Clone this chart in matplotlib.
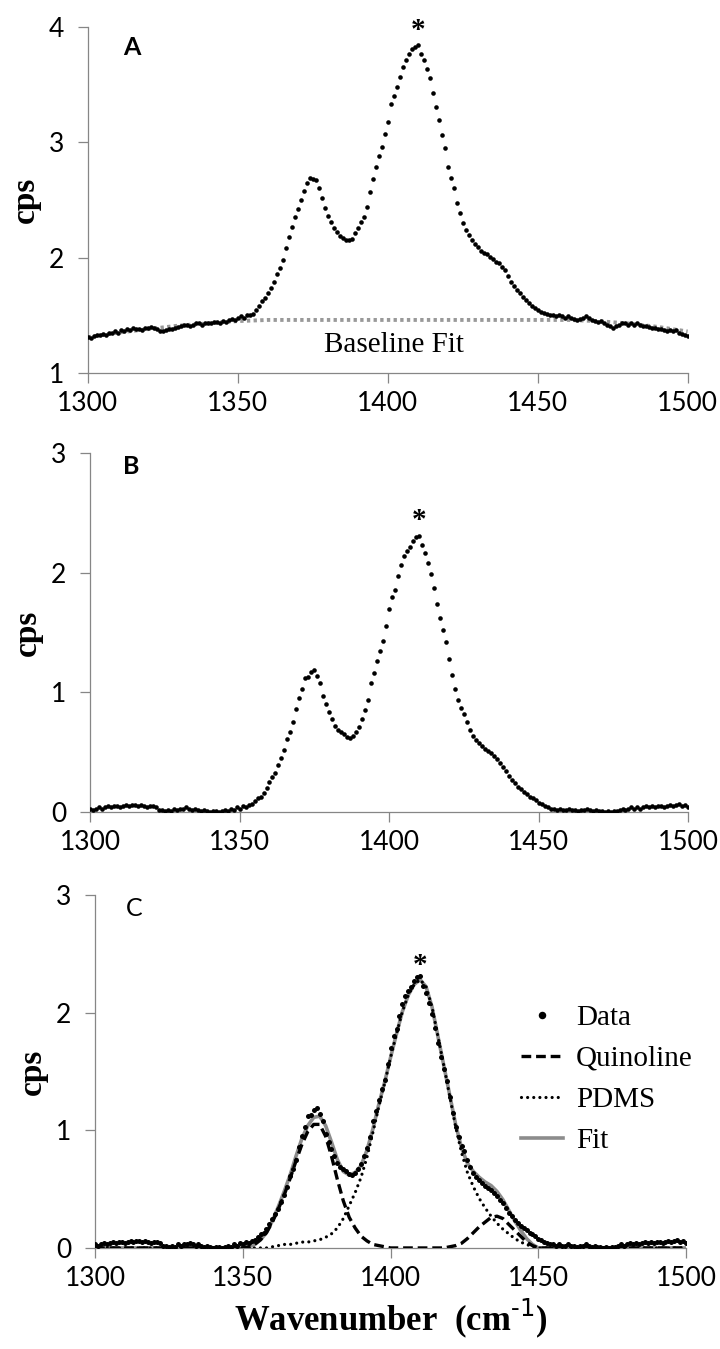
import matplotlib
matplotlib.use("Agg")
import matplotlib.pyplot as plt
import numpy as np

plt.rcParams['font.family'] = ['Lato', 'DejaVu Sans']
plt.rcParams['lines.scale_dashes'] = False

# x grids (cm-1)
wavenumber = np.arange(1300, 1501)          # measured points, 1 cm-1 apart
curve_wn = np.arange(1300, 1501, 2)         # fitted curves
baseline_wn = np.arange(1300, 1501, 10)     # baseline fit

# Panel A: raw spectrum
raw_cps = [
    1.31, 1.30, 1.32, 1.33, 1.33, 1.34, 1.33, 1.35, 1.35, 1.36,
    1.35, 1.37, 1.36, 1.38, 1.37, 1.39, 1.38, 1.38, 1.37, 1.39,
    1.39, 1.40, 1.39, 1.38, 1.36, 1.36, 1.37, 1.38, 1.38, 1.39,
    1.40, 1.41, 1.42, 1.42, 1.41, 1.42, 1.43, 1.43, 1.42, 1.43,
    1.43, 1.43, 1.44, 1.44, 1.43, 1.45, 1.44, 1.46, 1.47, 1.46,
    1.48, 1.49, 1.48, 1.50, 1.50, 1.51, 1.55, 1.58, 1.62, 1.65,
    1.69, 1.74, 1.79, 1.86, 1.91, 1.98, 2.08, 2.18, 2.27, 2.35,
    2.42, 2.50, 2.58, 2.65, 2.69, 2.68, 2.67, 2.60, 2.52, 2.43,
    2.36, 2.31, 2.26, 2.22, 2.19, 2.17, 2.15, 2.15, 2.16, 2.21,
    2.26, 2.31, 2.35, 2.44, 2.57, 2.68, 2.79, 2.88, 2.96, 3.07,
    3.18, 3.33, 3.40, 3.48, 3.57, 3.65, 3.71, 3.77, 3.81, 3.83,
    3.84, 3.77, 3.71, 3.64, 3.56, 3.43, 3.31, 3.19, 3.06, 2.95,
    2.79, 2.69, 2.60, 2.47, 2.39, 2.30, 2.24, 2.20, 2.15, 2.12,
    2.09, 2.06, 2.04, 2.03, 2.01, 1.99, 1.96, 1.95, 1.92, 1.89,
    1.84, 1.79, 1.75, 1.72, 1.69, 1.66, 1.63, 1.61, 1.58, 1.56,
    1.55, 1.53, 1.52, 1.51, 1.50, 1.50, 1.49, 1.50, 1.49, 1.48,
    1.49, 1.48, 1.47, 1.46, 1.47, 1.48, 1.49, 1.48, 1.46, 1.45,
    1.44, 1.45, 1.43, 1.42, 1.41, 1.39, 1.41, 1.42, 1.43, 1.43,
    1.42, 1.43, 1.42, 1.43, 1.42, 1.41, 1.41, 1.40, 1.39, 1.39,
    1.38, 1.38, 1.37, 1.36, 1.37, 1.36, 1.37, 1.35, 1.34, 1.33,
    1.32,
]

baseline_cps = [1.31, 1.35, 1.38, 1.41, 1.43, 1.45, 1.46, 1.46, 1.46, 1.46, 1.46,
                1.46, 1.46, 1.46, 1.46, 1.46, 1.46, 1.45, 1.43, 1.40, 1.36]

# Panel B/C: baseline-corrected spectrum
corrected_cps = [
    0.03, 0.02, 0.03, 0.04, 0.03, 0.04, 0.05, 0.04, 0.05, 0.05,
    0.04, 0.05, 0.06, 0.05, 0.06, 0.06, 0.05, 0.06, 0.05, 0.04,
    0.05, 0.05, 0.04, 0.02, 0.02, 0.01, 0.02, 0.01, 0.03, 0.02,
    0.03, 0.03, 0.04, 0.03, 0.02, 0.03, 0.02, 0.01, 0.02, 0.01,
    0.00, 0.01, 0.01, 0.00, 0.01, 0.02, 0.01, 0.03, 0.02, 0.04,
    0.03, 0.05, 0.04, 0.06, 0.07, 0.09, 0.12, 0.13, 0.16, 0.20,
    0.25, 0.29, 0.33, 0.39, 0.45, 0.52, 0.61, 0.67, 0.75, 0.86,
    0.95, 1.03, 1.12, 1.13, 1.17, 1.19, 1.14, 1.08, 0.97, 0.90,
    0.84, 0.78, 0.72, 0.69, 0.67, 0.65, 0.63, 0.62, 0.64, 0.67,
    0.71, 0.78, 0.85, 0.94, 1.08, 1.16, 1.26, 1.35, 1.43, 1.56,
    1.70, 1.80, 1.86, 1.97, 2.07, 2.14, 2.18, 2.22, 2.27, 2.30,
    2.31, 2.23, 2.17, 2.08, 1.99, 1.87, 1.74, 1.62, 1.52, 1.42,
    1.28, 1.15, 1.03, 0.94, 0.87, 0.82, 0.75, 0.69, 0.64, 0.60,
    0.58, 0.55, 0.53, 0.51, 0.49, 0.47, 0.44, 0.41, 0.38, 0.34,
    0.30, 0.27, 0.24, 0.21, 0.19, 0.17, 0.15, 0.13, 0.12, 0.10,
    0.08, 0.07, 0.05, 0.04, 0.03, 0.03, 0.02, 0.03, 0.02, 0.02,
    0.03, 0.02, 0.02, 0.01, 0.02, 0.02, 0.03, 0.02, 0.01, 0.02,
    0.01, 0.01, 0.00, 0.01, 0.00, 0.01, 0.01, 0.02, 0.03, 0.02,
    0.03, 0.04, 0.03, 0.04, 0.03, 0.04, 0.05, 0.04, 0.05, 0.04,
    0.05, 0.05, 0.04, 0.05, 0.06, 0.05, 0.06, 0.07, 0.05, 0.06,
    0.04,
]

# Panel C: fitted components (1300..1500 every 2 cm-1)
quinoline_cps = ([0.0] * 25 +
                 [0.00, 0.01, 0.03, 0.07, 0.13,
                  0.22, 0.33, 0.45, 0.59, 0.74, 0.88, 0.99, 1.05, 1.05, 0.95,
                  0.78, 0.58, 0.40, 0.26, 0.17, 0.10, 0.06, 0.03, 0.02, 0.01] +
                 [0.0] * 10 +
                 [0.01, 0.02, 0.04, 0.08, 0.13, 0.18, 0.22, 0.26, 0.27, 0.25,
                  0.20, 0.15, 0.10, 0.05, 0.02] +
                 [0.0] * 26)
pdms_cps = ([0.0] * 30 +
            [0.01, 0.02, 0.03, 0.03, 0.04, 0.05, 0.05, 0.06, 0.07, 0.09,
             0.12, 0.17, 0.25, 0.36, 0.47, 0.60, 0.77, 0.98, 1.20, 1.40,
             1.62, 1.82, 2.01, 2.15, 2.24, 2.28, 2.22, 2.05, 1.80, 1.55,
             1.29, 1.03, 0.81, 0.64, 0.52, 0.42, 0.34, 0.27, 0.21, 0.16,
             0.12, 0.08, 0.05, 0.03, 0.01] +
            [0.0] * 26)
fit_cps = ([0.0] * 25 +
           [0.00, 0.01, 0.03, 0.07, 0.13,
            0.23, 0.35, 0.48, 0.62, 0.78, 0.93, 1.04, 1.11, 1.12, 1.04,
            0.90, 0.75, 0.65, 0.62, 0.64, 0.70, 0.83, 1.01, 1.22, 1.41,
            1.62, 1.82, 2.01, 2.15, 2.24, 2.28, 2.22, 2.05, 1.80, 1.55,
            1.30, 1.05, 0.85, 0.72, 0.65, 0.60, 0.56, 0.53, 0.48, 0.41,
            0.32, 0.23, 0.15, 0.08, 0.03] +
           [0.0] * 26)

AXIS_GREY = '#868686'
SERIF = ['Liberation Serif', 'DejaVu Serif']


def style_axis(ax, ylim, yticks):
    ax.set_xlim(1300, 1500)
    ax.set_ylim(*ylim)
    ax.set_xticks([1300, 1350, 1400, 1450, 1500])
    ax.set_yticks(yticks)
    for side in ['top', 'right']:
        ax.spines[side].set_visible(False)
    for side in ['left', 'bottom']:
        ax.spines[side].set_color(AXIS_GREY)
        ax.spines[side].set_linewidth(0.9)
    ax.tick_params(direction='out', length=7, width=0.9, color=AXIS_GREY,
                   labelsize=19, labelcolor='black')
    ax.tick_params(axis='x', pad=6)
    ax.tick_params(axis='y', pad=10)
    ax.set_ylabel('cps', family=SERIF, fontweight='bold', fontsize=24, labelpad=6)
    for lbl in ax.get_xticklabels() + ax.get_yticklabels():
        lbl.set_clip_on(False)


fig = plt.figure(figsize=(7.2, 13.49), dpi=100)
axA = fig.add_axes([0.122, 0.7235, 0.833, 0.2565])
axB = fig.add_axes([0.125, 0.398, 0.831, 0.266])
axC = fig.add_axes([0.132, 0.0749, 0.821, 0.2617])

# Panel A
axA.plot(baseline_wn, baseline_cps, color='#999999', lw=2.8,
         dashes=(2.4, 2.4), dash_capstyle='butt', zorder=2)
axA.plot(wavenumber, raw_cps, 'o', color='black', ms=3.3, mew=0, zorder=3)
style_axis(axA, (1, 4), [1, 2, 3, 4])
axA.text(1402, 1.24, 'Baseline Fit', family=SERIF, fontsize=21,
         ha='center', va='center')
axA.text(1410, 3.97, '*', family=SERIF, fontsize=21, fontweight='bold',
         ha='center', va='center')
axA.text(0.073, 0.942, 'A', transform=axA.transAxes, fontsize=18,
         fontweight='bold', ha='center', va='center')

# Panel B
axB.plot(wavenumber, corrected_cps, 'o', color='black', ms=3.3, mew=0, zorder=3)
style_axis(axB, (0, 3), [0, 1, 2, 3])
axB.text(1410, 2.44, '*', family=SERIF, fontsize=21, fontweight='bold',
         ha='center', va='center')
axB.text(0.069, 0.962, 'B', transform=axB.transAxes, fontsize=18,
         fontweight='bold', ha='center', va='center')

# Panel C
fit_line, = axC.plot(curve_wn, fit_cps, color='#8c8c8c', lw=2.6, zorder=2,
                     label='Fit')
data_pts, = axC.plot(wavenumber, corrected_cps, 'o', color='black', ms=3.6,
                     mew=0, zorder=3, label='Data')
quin_line, = axC.plot(curve_wn, quinoline_cps, color='black', lw=2.4,
                      dashes=(7, 3.5), zorder=4, label='Quinoline')
pdms_line, = axC.plot(curve_wn, pdms_cps, color='black', lw=2.3,
                      dashes=(0.01, 4.4), dash_capstyle='round', zorder=4,
                      label='PDMS')
style_axis(axC, (0, 3), [0, 1, 2, 3])
axC.set_xlabel('Wavenumber  (cm$^{\\text{-1}}$)', family=SERIF,
               fontweight='bold', fontsize=25, labelpad=4)
axC.text(1410, 2.40, '*', family=SERIF, fontsize=21, fontweight='bold',
         ha='center', va='center')
axC.text(0.066, 0.962, 'C', transform=axC.transAxes, fontsize=18,
         ha='center', va='center')
axC.legend(handles=[data_pts, quin_line, pdms_line, fit_line],
           labels=['Data', 'Quinoline', 'PDMS', 'Fit'],
           loc='upper left', bbox_to_anchor=(0.72, 0.69), frameon=False,
           prop={'family': SERIF, 'size': 21}, numpoints=1, markerscale=1.5,
           handlelength=1.45, handletextpad=0.45, labelspacing=0.5,
           borderpad=0, borderaxespad=0)

fig.savefig('out.png', dpi=100)
